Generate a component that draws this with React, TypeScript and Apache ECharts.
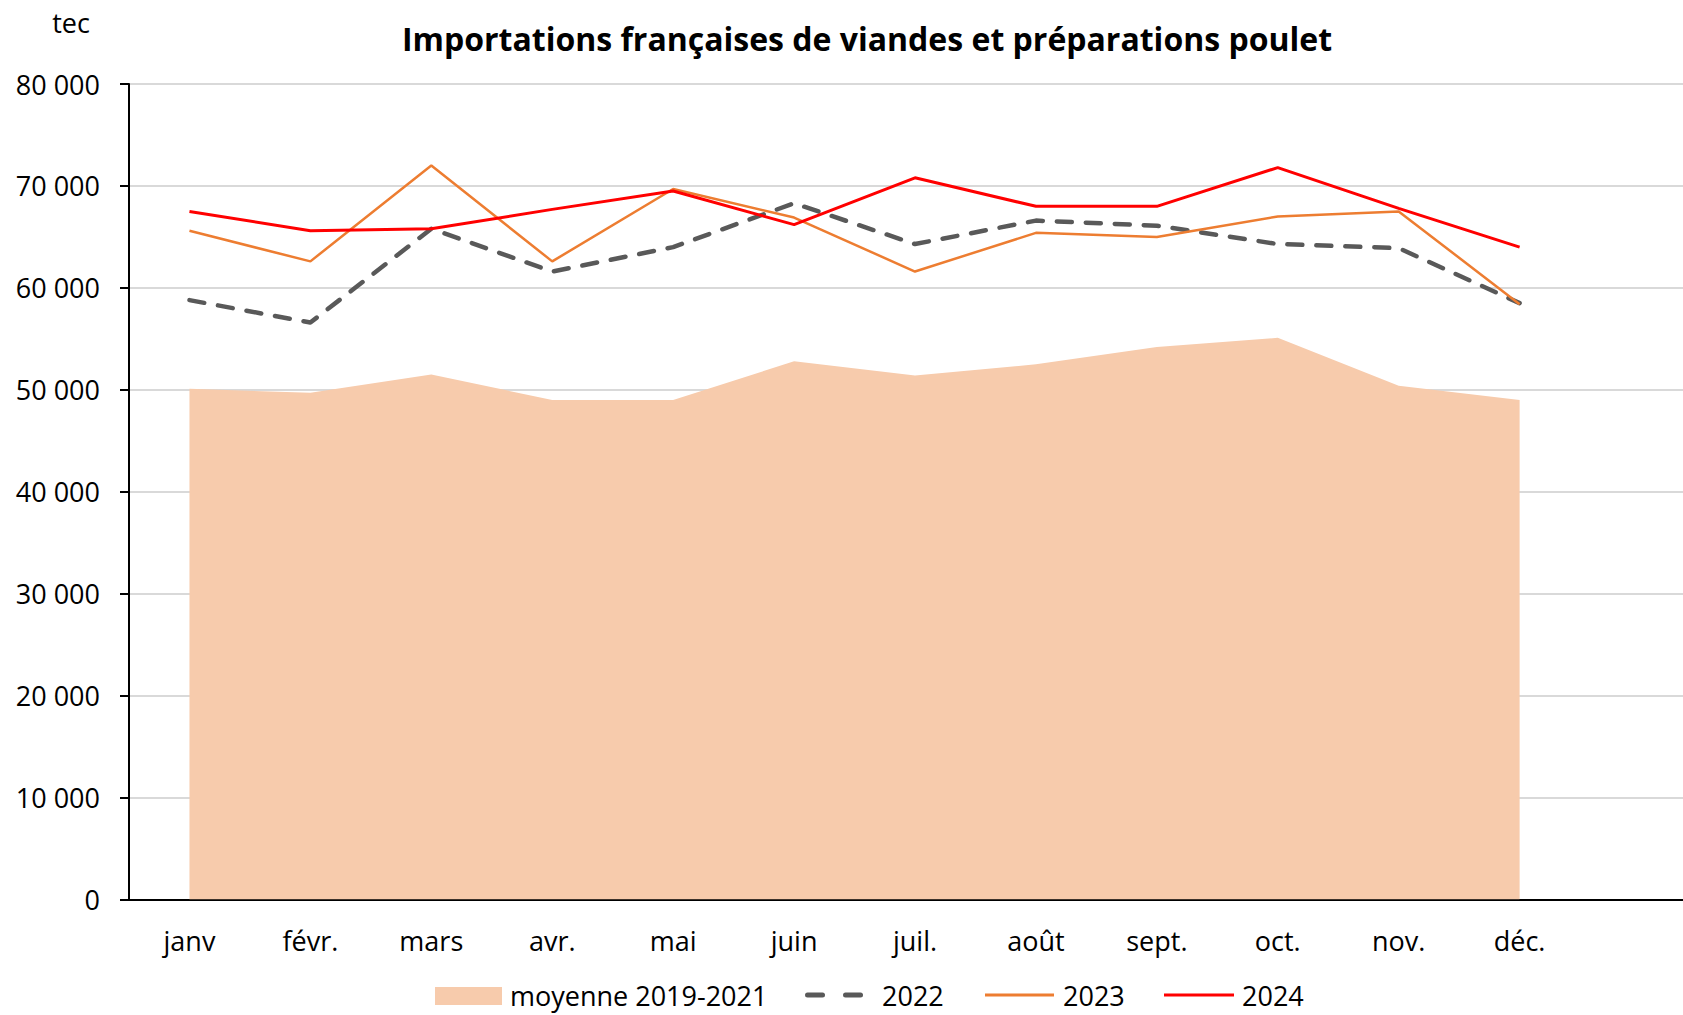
import React, { useEffect, useRef } from "react";
import * as echarts from "echarts";

const months = ["janv", "févr.", "mars", "avr.", "mai", "juin", "juil.", "août", "sept.", "oct.", "nov.", "déc."];
const xCategories = [...months, ""];
const yTicks = [0, 10000, 20000, 30000, 40000, 50000, 60000, 70000, 80000];

const moyenne = [50100, 49700, 51500, 49000, 49000, 52800, 51400, 52500, 54200, 55100, 50400, 49000];
const s2022 = [58800, 56600, 65800, 61600, 64000, 68300, 64300, 66600, 66100, 64300, 63900, 58500];
const s2023 = [65600, 62600, 72000, 62600, 69700, 66900, 61600, 65400, 65000, 67000, 67500, 58400];
const s2024 = [67500, 65600, 65800, 67700, 69500, 66200, 70800, 68000, 68000, 71800, 67800, 64000];

const legendNames = ["moyenne 2019-2021", "2022", "2023", "2024"];

const FONT = "Open Sans";
const C_AREA = "#F7CBAC";
const C_2022 = "#595959";
const C_2023 = "#ED7D31";
const C_2024 = "#FF0000";
const LEG_Y = 995;

export default function App() {
  const ref = useRef<HTMLDivElement>(null);
  useEffect(() => {
    if (!ref.current) return;
    const chart = echarts.init(ref.current, null, { renderer: "svg" });
    const fmt = (v: number) => String(v).replace(/\B(?=(\d{3})+(?!\d))/g, " ");
    const legText = (text: string, x: number) => ({
      type: "text",
      x,
      y: LEG_Y,
      style: { text, fontFamily: FONT, fontSize: 27, fill: "#000000", textAlign: "left", textVerticalAlign: "middle" },
    });
    chart.setOption({
      animation: false,
      backgroundColor: "#ffffff",
      title: {
        text: "Importations françaises de viandes et préparations poulet",
        left: 862,
        top: 17,
        textAlign: "center",
        textStyle: { fontFamily: FONT, fontWeight: "bold", fontSize: 32, color: "#000000" },
      },
      graphic: [
        {
          type: "text",
          x: 71,
          y: 22,
          style: { text: "tec", fontFamily: FONT, fontSize: 27, fill: "#000000", textAlign: "center", textVerticalAlign: "middle" },
        },
        { type: "rect", shape: { x: 435, y: LEG_Y - 8, width: 67, height: 18 }, style: { fill: C_AREA } },
        legText(legendNames[0], 510),
        {
          type: "line",
          shape: { x1: 807.5, y1: LEG_Y, x2: 822.5, y2: LEG_Y },
          style: { stroke: C_2022, lineWidth: 5, lineCap: "round" },
        },
        {
          type: "line",
          shape: { x1: 845.5, y1: LEG_Y, x2: 860.5, y2: LEG_Y },
          style: { stroke: C_2022, lineWidth: 5, lineCap: "round" },
        },
        legText(legendNames[1], 882),
        { type: "line", shape: { x1: 985, y1: LEG_Y, x2: 1054, y2: LEG_Y }, style: { stroke: C_2023, lineWidth: 3 } },
        legText(legendNames[2], 1063),
        { type: "line", shape: { x1: 1164, y1: LEG_Y, x2: 1234, y2: LEG_Y }, style: { stroke: C_2024, lineWidth: 3 } },
        legText(legendNames[3], 1242),
      ],
      grid: { left: 129, top: 84, right: 0, bottom: 115.5 },
      xAxis: {
        type: "category",
        data: xCategories,
        boundaryGap: true,
        axisLine: { lineStyle: { color: "#000000", width: 2 } },
        axisTick: { show: false },
        axisLabel: { interval: 0, margin: 27, fontFamily: FONT, fontSize: 27, color: "#000000" },
      },
      yAxis: {
        type: "value",
        min: yTicks[0],
        max: yTicks[yTicks.length - 1],
        interval: 10000,
        axisLine: { show: true, lineStyle: { color: "#000000", width: 2 } },
        axisTick: { show: true, length: 9, lineStyle: { color: "#000000", width: 2 } },
        axisLabel: { margin: 29, fontFamily: FONT, fontSize: 27, color: "#000000", formatter: fmt },
        splitLine: { lineStyle: { color: "#D9D9D9", width: 2 } },
      },
      series: [
        {
          name: legendNames[0],
          type: "line",
          data: moyenne,
          symbol: "none",
          color: C_AREA,
          lineStyle: { width: 0, color: C_AREA },
          areaStyle: { color: C_AREA, opacity: 1 },
          z: 1,
        },
        {
          name: legendNames[1],
          type: "line",
          data: s2022,
          symbol: "none",
          color: C_2022,
          lineStyle: { width: 4.5, color: C_2022, type: [15, 14], cap: "round", join: "round" },
          z: 2,
        },
        {
          name: legendNames[2],
          type: "line",
          data: s2023,
          symbol: "none",
          color: C_2023,
          lineStyle: { width: 2.5, color: C_2023 },
          z: 3,
        },
        {
          name: legendNames[3],
          type: "line",
          data: s2024,
          symbol: "none",
          color: C_2024,
          lineStyle: { width: 3, color: C_2024 },
          z: 4,
        },
      ],
    });
    return () => chart.dispose();
  }, []);
  return (
    <div style={{ position: "fixed", left: 0, top: 0, width: 1683, height: 1015, overflow: "hidden", background: "#fff" }}>
      <div ref={ref} style={{ position: "absolute", left: 0, top: 0, width: 1701, height: 1015 }} />
    </div>
  );
}
